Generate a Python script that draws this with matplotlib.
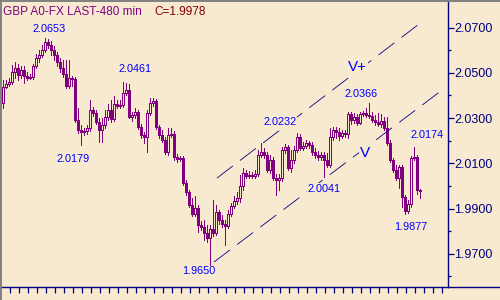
import matplotlib
matplotlib.use("Agg")
import matplotlib.pyplot as plt
from matplotlib.lines import Line2D
import numpy as np

# ---------------- data (GBP 480-min candles) ----------------
opens = [
    2.0367, 2.0437, 2.0450, 2.0459, 2.0504, 2.0522, 2.0491, 2.0513, 2.0486, 2.0478,
    2.0482, 2.0530, 2.0566, 2.0579, 2.0601, 2.0636, 2.0623, 2.0601, 2.0579, 2.0548,
    2.0522, 2.0495, 2.0442, 2.0478, 2.0473, 2.0292, 2.0247, 2.0238, 2.0243, 2.0257,
    2.0336, 2.0323, 2.0283, 2.0247, 2.0270, 2.0305, 2.0336, 2.0296, 2.0362, 2.0354,
    2.0358, 2.0411, 2.0424, 2.0305, 2.0314, 2.0327, 2.0261, 2.0225, 2.0216, 2.0323,
    2.0367, 2.0376, 2.0261, 2.0225, 2.0203, 2.0150, 2.0225, 2.0229, 2.0128, 2.0119,
    2.0124, 2.0013, 1.9973, 1.9916, 1.9876, 1.9903, 1.9828, 1.9819, 1.9792, 1.9770,
    1.9810, 1.9792, 1.9885, 1.9850, 1.9832, 1.9824, 1.9876, 1.9912, 1.9934, 1.9947,
    2.0000, 2.0058, 2.0045, 2.0049, 2.0045, 2.0053, 2.0137, 2.0150, 2.0137, 2.0071,
    2.0115, 2.0036, 2.0026, 2.0036, 2.0159, 2.0172, 2.0080, 2.0115, 2.0159, 2.0216,
    2.0168, 2.0177, 2.0190, 2.0181, 2.0150, 2.0137, 2.0128, 2.0137, 2.0115, 2.0093,
    2.0216, 2.0247, 2.0238, 2.0220, 2.0234, 2.0229, 2.0318, 2.0292, 2.0305, 2.0279,
    2.0318, 2.0323, 2.0314, 2.0310, 2.0292, 2.0283, 2.0274, 2.0288, 2.0257, 2.0190,
    2.0115, 2.0071, 2.0036, 2.0084, 1.9951, 1.9890, 1.9920, 2.0124, 2.0128, 1.9982,
]
highs = [
    2.0468, 2.0468, 2.0478, 2.0535, 2.0548, 2.0539, 2.0530, 2.0530, 2.0504, 2.0495,
    2.0539, 2.0583, 2.0601, 2.0623, 2.0653, 2.0649, 2.0641, 2.0619, 2.0592, 2.0566,
    2.0557, 2.0557, 2.0557, 2.0486, 2.0482, 2.0345, 2.0270, 2.0257, 2.0270, 2.0380,
    2.0349, 2.0336, 2.0301, 2.0301, 2.0336, 2.0362, 2.0380, 2.0398, 2.0380, 2.0380,
    2.0461, 2.0455, 2.0450, 2.0327, 2.0345, 2.0336, 2.0274, 2.0238, 2.0336, 2.0389,
    2.0389, 2.0384, 2.0270, 2.0247, 2.0216, 2.0257, 2.0257, 2.0243, 2.0141, 2.0133,
    2.0133, 2.0026, 1.9982, 1.9947, 1.9956, 1.9916, 1.9846, 1.9850, 1.9828, 1.9828,
    1.9938, 1.9916, 1.9894, 1.9872, 1.9850, 1.9894, 1.9925, 1.9956, 1.9973, 2.0049,
    2.0080, 2.0071, 2.0067, 2.0062, 2.0071, 2.0159, 2.0190, 2.0168, 2.0150, 2.0137,
    2.0128, 2.0053, 2.0053, 2.0172, 2.0185, 2.0181, 2.0159, 2.0177, 2.0232, 2.0229,
    2.0194, 2.0203, 2.0199, 2.0194, 2.0168, 2.0155, 2.0150, 2.0150, 2.0146, 2.0257,
    2.0261, 2.0261, 2.0257, 2.0247, 2.0247, 2.0327, 2.0327, 2.0323, 2.0318, 2.0327,
    2.0332, 2.0345, 2.0366, 2.0327, 2.0314, 2.0323, 2.0318, 2.0305, 2.0305, 2.0203,
    2.0124, 2.0093, 2.0093, 2.0093, 1.9960, 1.9938, 2.0133, 2.0174, 2.0137, 1.9986,
]
lows = [
    2.0345, 2.0433, 2.0442, 2.0450, 2.0478, 2.0468, 2.0478, 2.0455, 2.0468, 2.0473,
    2.0473, 2.0522, 2.0548, 2.0570, 2.0592, 2.0610, 2.0579, 2.0557, 2.0530, 2.0504,
    2.0482, 2.0433, 2.0433, 2.0442, 2.0283, 2.0234, 2.0179, 2.0225, 2.0229, 2.0243,
    2.0310, 2.0274, 2.0194, 2.0194, 2.0257, 2.0292, 2.0283, 2.0288, 2.0345, 2.0345,
    2.0349, 2.0402, 2.0301, 2.0288, 2.0301, 2.0252, 2.0212, 2.0190, 2.0150, 2.0314,
    2.0354, 2.0252, 2.0212, 2.0194, 2.0141, 2.0137, 2.0216, 2.0115, 2.0106, 2.0111,
    2.0004, 1.9960, 1.9907, 1.9868, 1.9868, 1.9796, 1.9805, 1.9761, 1.9752, 1.9650,
    1.9779, 1.9783, 1.9832, 1.9819, 1.9739, 1.9815, 1.9868, 1.9903, 1.9920, 1.9929,
    1.9982, 2.0036, 2.0036, 2.0036, 2.0036, 2.0045, 2.0128, 2.0124, 2.0062, 2.0058,
    2.0026, 1.9960, 1.9982, 2.0022, 2.0146, 2.0071, 2.0062, 2.0102, 2.0150, 2.0159,
    2.0159, 2.0168, 2.0168, 2.0137, 2.0124, 2.0115, 2.0115, 2.0041, 2.0084, 2.0084,
    2.0203, 2.0212, 2.0203, 2.0212, 2.0216, 2.0212, 2.0274, 2.0279, 2.0270, 2.0274,
    2.0310, 2.0305, 2.0301, 2.0283, 2.0270, 2.0265, 2.0261, 2.0247, 2.0181, 2.0106,
    2.0062, 2.0026, 1.9991, 1.9907, 1.9877, 1.9882, 1.9907, 2.0115, 1.9964, 1.9947,
]
closes = [
    2.0437, 2.0450, 2.0459, 2.0504, 2.0522, 2.0491, 2.0513, 2.0486, 2.0478, 2.0482,
    2.0530, 2.0566, 2.0579, 2.0601, 2.0636, 2.0623, 2.0601, 2.0579, 2.0548, 2.0522,
    2.0495, 2.0442, 2.0478, 2.0473, 2.0292, 2.0247, 2.0238, 2.0243, 2.0257, 2.0336,
    2.0323, 2.0283, 2.0247, 2.0270, 2.0305, 2.0336, 2.0296, 2.0362, 2.0354, 2.0358,
    2.0411, 2.0424, 2.0305, 2.0314, 2.0327, 2.0261, 2.0225, 2.0216, 2.0323, 2.0367,
    2.0376, 2.0261, 2.0225, 2.0203, 2.0150, 2.0225, 2.0229, 2.0128, 2.0119, 2.0124,
    2.0013, 1.9973, 1.9916, 1.9876, 1.9903, 1.9828, 1.9819, 1.9792, 1.9770, 1.9810,
    1.9792, 1.9885, 1.9850, 1.9832, 1.9824, 1.9876, 1.9912, 1.9934, 1.9947, 2.0000,
    2.0058, 2.0045, 2.0049, 2.0045, 2.0053, 2.0137, 2.0150, 2.0137, 2.0071, 2.0115,
    2.0036, 2.0026, 2.0036, 2.0159, 2.0172, 2.0080, 2.0115, 2.0159, 2.0216, 2.0168,
    2.0177, 2.0190, 2.0181, 2.0150, 2.0137, 2.0128, 2.0137, 2.0115, 2.0093, 2.0216,
    2.0247, 2.0238, 2.0220, 2.0234, 2.0229, 2.0318, 2.0292, 2.0305, 2.0279, 2.0318,
    2.0323, 2.0314, 2.0310, 2.0292, 2.0283, 2.0274, 2.0288, 2.0257, 2.0190, 2.0115,
    2.0071, 2.0036, 2.0084, 1.9951, 1.9890, 1.9920, 2.0124, 2.0128, 1.9982, 1.9978,
]

# swing-point labels: candle index and value
pivot_idx = [14, 40, 26, 69, 98, 107, 122, 137, 134]
pivot_val = [2.0653, 2.0461, 2.0179, 1.9650, 2.0232, 2.0041, 2.0366, 2.0174, 1.9877]
pivot_off = [(4, 6), (12, 10), (-8, -17), (-11, -9), (-17, 8), (0, -15), (-8, 6), (13, 9), (6, -16)]

# trend channel (candle index, price)
lower_chan_idx = [70.33, 145.67]
lower_chan_val = [1.9664, 2.0417]
upper_chan_idx = [71.33, 140.0]
upper_chan_val = [2.0035, 2.0729]

yticks = [1.97, 1.99, 2.01, 2.03, 2.05, 2.07]
yminor = [1.96, 1.98, 2.00, 2.02, 2.04, 2.06]

# ---------------- style ----------------
BG = "#F8EAD0"
PURPLE = "#800080"
NAVY = "#000080"
BLUE = "#0000FF"
FONT = ["Liberation Sans", "DejaVu Sans"]
plt.rcParams["font.family"] = FONT

W, H = 500, 300
LW = 0.7  # ~1 px
fig = plt.figure(figsize=(5, 3), dpi=100, facecolor=BG)
ax = fig.add_axes([2 / W, 13 / H, 446 / W, 287 / H])
ax.set_facecolor(BG)

x = np.arange(len(closes))
o = np.array(opens); c = np.array(closes); h = np.array(highs); l = np.array(lows)
up = c >= o

# wicks
ax.vlines(x, l, h, color=PURPLE, linewidth=LW, antialiased=False, zorder=2)
# bodies
bottom = np.minimum(o, c)
height = np.abs(c - o)
face = [BG if u else PURPLE for u in up]
ax.bar(x, height, bottom=bottom, width=0.66, color=face, edgecolor=PURPLE,
       linewidth=LW, antialiased=False, zorder=3)

# channel lines
CLW = 0.6
dash = (0, (20 / CLW * 0.72, 9 / CLW * 0.72))
ax.plot(lower_chan_idx, lower_chan_val, color=NAVY, linewidth=CLW,
        linestyle=dash, antialiased=True, zorder=4)
ax.plot(upper_chan_idx, upper_chan_val, color=NAVY, linewidth=CLW,
        linestyle=dash, antialiased=True, zorder=4)

# pivot labels
for i, v, (dx, dy) in zip(pivot_idx, pivot_val, pivot_off):
    ax.annotate(f"{v:.4f}", xy=(i, v), xytext=(dx, dy), textcoords="offset pixels",
                ha="center", va="baseline", color=BLUE, fontsize=7.8, zorder=6,
                bbox=dict(boxstyle="square,pad=0.05", facecolor=BG, edgecolor="none"))

ax.text(118.3, 2.0508, "V+", color=BLUE, fontsize=11, ha="center", va="baseline", zorder=6,
        bbox=dict(boxstyle="square,pad=0.05", facecolor=BG, edgecolor="none"))
ax.text(120.7, 2.0128, "V", color=BLUE, fontsize=11, ha="center", va="baseline", zorder=6,
        bbox=dict(boxstyle="square,pad=0.05", facecolor=BG, edgecolor="none"))

# axes
ax.set_xlim(-1 / 3, 148 + 1 / 3)
ax.set_ylim(2.0822 - 0.000442 * 287, 2.0822)
for s in ("left", "top"):
    ax.spines[s].set_visible(False)
for s in ("right", "bottom"):
    ax.spines[s].set_color(NAVY)
    ax.spines[s].set_linewidth(1.0)

ax.yaxis.tick_right()
ax.set_yticks(yticks)
ax.set_yticks(yminor, minor=True)
ax.set_yticklabels([f"{t:.4f}" for t in yticks])
ax.tick_params(axis="y", which="major", direction="out", length=4, width=0.9,
               color=NAVY, labelcolor=NAVY, labelsize=9, pad=0.5)
ax.tick_params(axis="y", which="minor", direction="out", length=2, width=0.9, color=NAVY)
ax.set_xticks(np.arange(7 / 3, 147, 3))
ax.tick_params(axis="x", which="major", direction="out", length=4.3, width=0.9,
               color=NAVY, labelbottom=False)

# frame extras
fig.add_artist(Line2D([448 / W, 1], [13 / H, 13 / H], transform=fig.transFigure,
                      color=NAVY, linewidth=1.0))
fig.add_artist(Line2D([1 / W, 1 / W], [0, 1], transform=fig.transFigure,
                      color="#808080", linewidth=1.4))
fig.add_artist(Line2D([0, 1], [1 - 0.7 / H, 1 - 0.7 / H], transform=fig.transFigure,
                      color="#808080", linewidth=1.4))

# title
fig.text(3 / W, 1 - 15 / H, "GBP A0-FX LAST-480 min", color=PURPLE, fontsize=8.5,
         ha="left", va="baseline")
fig.text(154 / W, 1 - 15 / H, "C=1.9978", color="#800000", fontsize=8.5,
         ha="left", va="baseline")

fig.savefig("out.png", dpi=100, facecolor=BG)
